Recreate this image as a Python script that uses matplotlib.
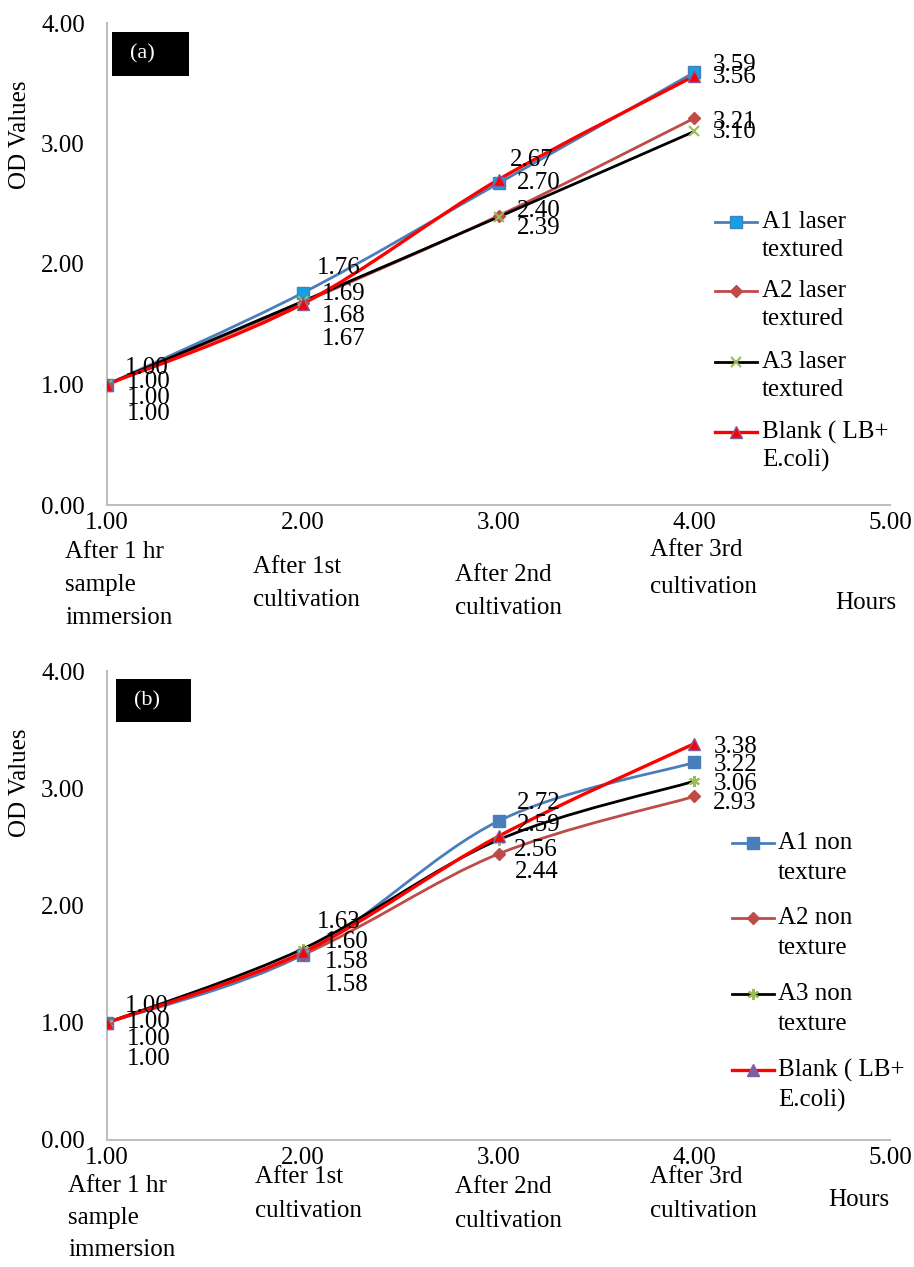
import numpy as np
import matplotlib
matplotlib.use("Agg")
import matplotlib.pyplot as plt
from matplotlib.path import Path
from matplotlib.patches import PathPatch, Rectangle
from matplotlib.lines import Line2D

plt.rcParams['font.family'] = ['Liberation Serif', 'DejaVu Serif']

# ---------------- data ----------------
stages = [1, 2, 3, 4]
x_ticks = [1, 2, 3, 4, 5]
y_ticks = [0, 1, 2, 3, 4]
stage_names = ["After 1 hr\nsample\nimmersion", "After 1st\ncultivation",
               "After 2nd\ncultivation", "After 3rd\ncultivation", "Hours"]

# panel (a): laser textured
a1_laser = [1.00, 1.76, 2.67, 3.59]
a2_laser = [1.00, 1.68, 2.40, 3.21]
a3_laser = [1.00, 1.69, 2.39, 3.10]
blank_a = [1.00, 1.67, 2.70, 3.56]
names_a = ["A1 laser\ntextured", "A2 laser\ntextured", "A3 laser\ntextured",
           "Blank ( LB+\nE.coli)"]

# panel (b): non texture
a1_non = [1.00, 1.58, 2.72, 3.22]
a2_non = [1.00, 1.58, 2.44, 2.93]
a3_non = [1.00, 1.63, 2.56, 3.06]
blank_b = [1.00, 1.60, 2.59, 3.38]
names_b = ["A1 non\ntexture", "A2 non\ntexture", "A3 non\ntexture",
           "Blank ( LB+\nE.coli)"]

# ---------------- layout (pixels) ----------------
W, H = 914, 1267
FS = 18
BLUE, RED2, GREEN, PURPLE = '#4A7EBB', '#BE4B48', '#9BBB59', '#7D5FA0'

styles_a = [dict(color=BLUE, marker='s', mfc='#14A0E6', mec=BLUE, ms=8, lw=2.0),
            dict(color=RED2, marker='D', mfc=RED2, mec=RED2, ms=6, lw=2.0),
            dict(color='black', marker='x', mfc=GREEN, mec=GREEN, ms=7, lw=2.0, mew=1.5),
            dict(color='#FF0000', marker='^', mfc='#FF0000', mec=PURPLE, ms=8, lw=2.4)]
styles_b = [dict(color=BLUE, marker='s', mfc=BLUE, mec=BLUE, ms=8, lw=2.0),
            dict(color=RED2, marker='D', mfc=RED2, mec=RED2, ms=6, lw=2.0),
            dict(color='black', marker=(6, 2, 0), mfc=GREEN, mec=GREEN, ms=8, lw=2.0, mew=1.5),
            dict(color='#FF0000', marker='^', mfc='#FF0000', mec=PURPLE, ms=8, lw=2.4,
                 leg_mfc=PURPLE)]

# label offsets (dx, dy in pixels, dy positive = down) per series per point
offs_a = [[(18, -17), (14, -25), (11, -23), (18, -7)],
          [(20, 30), (19, 13), (18, -5), (18, 4)],
          [(20, -2), (19, -7), (18, 11), (18, 1)],
          [(20, 14), (19, 35), (18, 3), (18, 1)]]
offs_b = [[(18, -17), (22, 7), (18, -18), (19, 3)],
          [(20, 36), (22, 30), (16, 18), (19, 7)],
          [(20, -1), (14, -27), (15, 10), (19, 3)],
          [(20, 16), (22, -10), (18, -11), (19, 3)]]

# category labels: (left px, first-line centre below axis px, line pitch px)
cats_a = [(65, 47, 33), (253, 62, 33), (455, 70, 33), (650, 45, 37), (835, 98, 33)]
cats_b = [(68, 46, 32), (255, 37, 34), (455, 47, 34), (650, 37, 34), (828, 60, 32)]

# legends: (handle left px, handle right px, text left px, first-line centres, line pitch)
leg_a = (715, 757, 762, [222, 291, 362, 432], 28)
leg_b = (732, 774, 778, [843, 918, 994, 1070], 30)


def px_rect(l, t, r, b):
    return [l / W, 1 - b / H, (r - l) / W, (b - t) / H]


def fx(x):
    return x / W


def fy(y):
    return 1 - y / H


def smooth_path(x, y):
    # Excel-like smoothed line: cubic bezier through the points
    x = np.asarray(x, float)
    y = np.asarray(y, float)
    verts = [(x[0], y[0])]
    codes = [Path.MOVETO]
    n = len(x)
    for i in range(n - 1):
        p0 = (x[max(i - 1, 0)], y[max(i - 1, 0)])
        p1 = (x[i], y[i])
        p2 = (x[i + 1], y[i + 1])
        p3 = (x[min(i + 2, n - 1)], y[min(i + 2, n - 1)])
        c1 = (p1[0] + (p2[0] - p0[0]) / 6, p1[1] + (p2[1] - p0[1]) / 6)
        c2 = (p2[0] - (p3[0] - p1[0]) / 6, p2[1] - (p3[1] - p1[1]) / 6)
        verts += [c1, c2, p2]
        codes += [Path.CURVE4] * 3
    return Path(verts, codes)


def draw_panel(ax, series, names, styles, offs, cats, tag, box, top_px, bottom_px, leg):
    for vals, st, off in zip(series, styles, offs):
        ax.add_patch(PathPatch(smooth_path(stages, vals), fc='none',
                               ec=st['color'], lw=st['lw'], zorder=2))
        ax.plot(stages, vals, ls='none', marker=st['marker'], ms=st['ms'],
                mfc=st['mfc'], mec=st['mec'], mew=st.get('mew', 1.0), zorder=3)
        for xv, yv, (dx, dy) in zip(stages, vals, off):
            ax.annotate(f"{yv:.2f}", (xv, yv), xytext=(dx, -dy),
                        textcoords='offset pixels', ha='left', va='center',
                        fontsize=FS, zorder=4)
    ax.set_xlim(1, 5)
    ax.set_ylim(0, 4)
    ax.set_xticks(x_ticks)
    ax.set_yticks(y_ticks)
    ax.set_xticklabels([f"{v:.2f}" for v in x_ticks])
    ax.set_yticklabels([f"{v:.2f}" for v in y_ticks])
    ax.tick_params(length=0, labelsize=FS)
    ax.tick_params(axis='y', pad=16)
    ax.tick_params(axis='x', pad=5)
    for s in ['top', 'right']:
        ax.spines[s].set_visible(False)
    for s in ['left', 'bottom']:
        ax.spines[s].set_color('#BFBFBF')
        ax.spines[s].set_linewidth(1.5)
    ax.patch.set_alpha(0)

    fig.text(fx(20), fy(top_px + 112), "OD Values", rotation=90, fontsize=FS,
             ha='center', va='center')

    for name, (lx, cy, pitch) in zip(stage_names, cats):
        for k, line in enumerate(name.split("\n")):
            fig.text(fx(lx), fy(bottom_px + cy + k * pitch), line, ha='left',
                     va='center', fontsize=FS)

    l, t, r, b = box
    fig.add_artist(Rectangle((fx(l), fy(b)), (r - l) / W, (b - t) / H,
                             transform=fig.transFigure, fc='black', ec='none'))
    fig.text(fx(l + 18), fy((t + b) / 2), tag, color='white',
             fontsize=16, ha='left', va='center')

    hl, hr, tl, centres, pitch = leg
    for name, st, cy in zip(names, styles, centres):
        fig.add_artist(Line2D([fx(hl), fx(hr)], [fy(cy), fy(cy)],
                              transform=fig.transFigure, color=st['color'], lw=st['lw']))
        fig.add_artist(Line2D([fx((hl + hr) / 2)], [fy(cy)], transform=fig.transFigure,
                              ls='none', marker=st['marker'], ms=st['ms'],
                              mfc=st.get('leg_mfc', st['mfc']), mec=st['mec'],
                              mew=st.get('mew', 1.0)))
        for k, line in enumerate(name.split("\n")):
            fig.text(fx(tl), fy(cy + k * pitch), line, ha='left', va='center',
                     fontsize=FS)


fig = plt.figure(figsize=(W / 100, H / 100), dpi=100)
ax_a = fig.add_axes(px_rect(107, 23, 890, 505))
ax_b = fig.add_axes(px_rect(107, 671, 890, 1140))

draw_panel(ax_a, [a1_laser, a2_laser, a3_laser, blank_a], names_a, styles_a,
           offs_a, cats_a, "(a)", (112, 32, 189, 76), 23, 505, leg_a)
draw_panel(ax_b, [a1_non, a2_non, a3_non, blank_b], names_b, styles_b,
           offs_b, cats_b, "(b)", (116, 679, 191, 722), 671, 1140, leg_b)

fig.savefig("out.png", dpi=100)
